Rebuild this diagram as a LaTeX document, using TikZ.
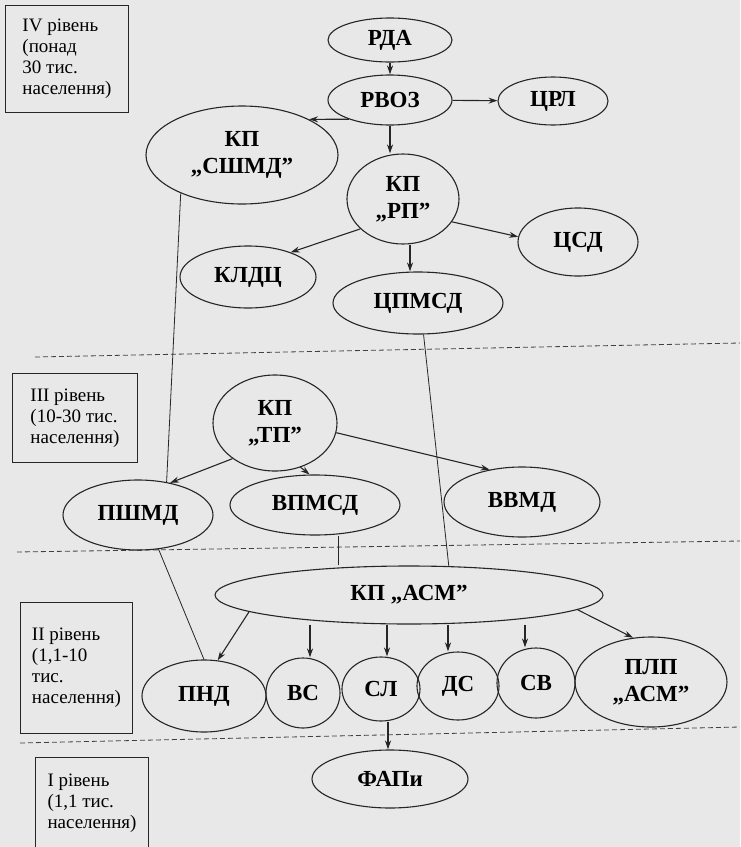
\documentclass[tikz,border=0pt]{standalone}
\usepackage{fontspec}
\setmainfont{LiberationSerif-Regular.ttf}[BoldFont=LiberationSerif-Bold.ttf]
\usetikzlibrary{shapes.geometric}
\usetikzlibrary{arrows.meta}

\begin{document}
\begin{tikzpicture}[x=1pt,y=-1pt]
% стилі
\tikzstyle ovalrivne=[draw=black!85,line width=1.1pt,ellipse,inner sep=0pt,align=center,font=\bfseries\fontsize{23}{27}\selectfont]
\tikzstyle boxrivne=[draw=black!85,line width=1pt,rectangle,anchor=north west,align=left,inner xsep=12pt,font=\fontsize{19}{21}\selectfont]
\tikzstyle strilka=[color=black!85,line width=1.1pt,-{Stealth[length=9pt,width=6pt]}]
\tikzstyle liniya=[color=black!85,line width=0.8pt]
\tikzstyle mezha=[color=black!75,line width=0.8pt,dash pattern=on 5pt off 3pt]
\newcommand{\pravkraj}{740} % правий край аркуша
% тло
\useasboundingbox (0,0) rectangle (740,847);
\fill[black!9] (0,0) rectangle (740,847);
% межі рівнів
\draw[mezha] (35,357) -- (\pravkraj,343);
\draw[mezha] (17,552) -- (\pravkraj,541);
\draw[mezha] (20,743) -- (\pravkraj,727);
% рівні
\node[boxrivne,minimum width=123pt,minimum height=107pt] (riv4) at (5,5) {IV рівень\\(понад\\30 тис.\\населення)};
\node[boxrivne,minimum width=125pt,minimum height=89pt,inner xsep=9pt] (riv3) at (12,373) {III рівень\\(10-30 тис.\\населення)};
\node[boxrivne,minimum width=112pt,minimum height=131pt,inner xsep=9pt] (riv2) at (20,602) {II рівень\\(1,1-10\\тис.\\населення)};
\node[boxrivne,minimum width=112pt,minimum height=92pt] (riv1) at (35,757) {I рівень\\(1,1 тис.\\населення)};
% IV рівень
\node[ovalrivne,minimum width=124pt,minimum height=44pt] (rda) at (390,40) {РДА};
\node[ovalrivne,minimum width=124pt,minimum height=50pt] (rvoz) at (390,100) {РВОЗ};
\node[ovalrivne,minimum width=110pt,minimum height=48pt] (crl) at (553,101) {ЦРЛ};
\node[ovalrivne,minimum width=192pt,minimum height=98pt] (sshmd) at (242,155) {КП\\„СШМД”};
\node[ovalrivne,minimum width=112pt,minimum height=90pt] (rp) at (403,199) {КП\\„РП”};
\node[ovalrivne,minimum width=120pt,minimum height=68pt] (csd) at (578,242) {ЦСД};
\node[ovalrivne,minimum width=136pt,minimum height=62pt] (kldc) at (248,277) {КЛДЦ};
\node[ovalrivne,minimum width=170pt,minimum height=62pt] (cpmsd) at (418,303) {ЦПМСД};
% III рівень
\node[ovalrivne,minimum width=124pt,minimum height=96pt] (tp) at (275,423) {КП\\„ТП”};
\node[ovalrivne,minimum width=150pt,minimum height=70pt] (pshmd) at (138,515) {ПШМД};
\node[ovalrivne,minimum width=170pt,minimum height=60pt] (vpmsd) at (315,505) {ВПМСД};
\node[ovalrivne,minimum width=156pt,minimum height=70pt] (vvmd) at (522,502) {ВВМД};
% II рівень
\node[ovalrivne,minimum width=388pt,minimum height=58pt] (asm) at (409,595) {КП „АСМ”};
\node[ovalrivne,minimum width=124pt,minimum height=72pt] (pnd) at (204,696) {ПНД};
\node[ovalrivne,minimum width=74pt,minimum height=70pt] (vs) at (303,693) {ВС};
\node[ovalrivne,minimum width=78pt,minimum height=64pt] (sl) at (381,689) {СЛ};
\node[ovalrivne,minimum width=82pt,minimum height=68pt] (ds) at (458,686) {ДС};
\node[ovalrivne,minimum width=78pt,minimum height=70pt] (sv) at (536,683) {СВ};
\node[ovalrivne,minimum width=152pt,minimum height=90pt] (plp) at (651,682) {ПЛП\\„АСМ”};
% I рівень
\node[ovalrivne,minimum width=156pt,minimum height=58pt] (fapy) at (390,779) {ФАПи};
% стрілки
\draw[strilka] (rda) -- (rvoz);
\draw[strilka] (rvoz) -- (crl);
\draw[strilka] (rvoz.south) -- (rvoz.south |- rp.north);
\draw[strilka] (rvoz.205) -- (sshmd.28);
\draw[strilka] (rp.-25) -- (csd.175);
\draw[strilka] (rp.215) -- (kldc.30);
\draw[strilka] ([xshift=7pt]rp.south) -- ([xshift=7pt]rp.south |- cpmsd.north);
\draw[strilka] (tp.220) -- (pshmd.45);
\draw[strilka] (tp.-60) -- (vpmsd.100);
\draw[strilka] (tp.-9) -- (vvmd.135);
\draw[strilka] (asm.186) -- (pnd.69);
\draw[strilka] ([xshift=7pt]vs.north |- asm.south) -- ([xshift=7pt]vs.north);
\draw[strilka] ([xshift=6pt]sl.north |- asm.south) -- ([xshift=6pt]sl.north);
\draw[strilka] ([xshift=-10pt]ds.north |- asm.south) -- ([xshift=-10pt]ds.north);
\draw[strilka] ([xshift=-11pt]sv.north |- asm.south) -- ([xshift=-11pt]sv.north);
\draw[strilka] (asm.-5) -- (plp.112);
\draw[strilka] ([xshift=7pt]sl.south) -- ([xshift=7pt]sl.south |- fapy.north);
% лінії без стрілок
\draw[liniya] (sshmd.212) -- (pshmd.49);
\draw[liniya] (pshmd.-59) -- (pnd.north);
\draw[liniya] (cpmsd.-80) -- (asm.36);
\draw[liniya] ([xshift=23pt]vpmsd.south) -- ([xshift=23pt]vpmsd.south |- asm.north);
\end{tikzpicture}
\end{document}
